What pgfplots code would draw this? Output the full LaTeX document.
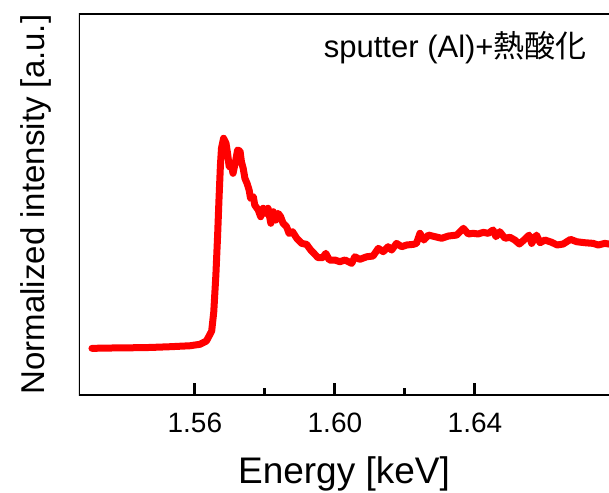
\documentclass[border=0pt]{standalone}
\usepackage{fontspec}
\setmainfont{Liberation Sans}
\newfontfamily\cjk{Noto Sans CJK JP}
\usepackage{pgfplots}
\pgfplotsset{compat=1.18}
\usepackage{pgfplotstable}

% Al K-edge spectrum
\pgfplotstableread{
x y
1.5306 -0.003
1.5357 0.000
1.5414 0.002
1.5471 0.005
1.5529 0.012
1.5586 0.021
1.5614 0.034
1.5633 0.065
1.5648 0.157
1.5654 0.336
1.5660 0.676
1.5665 1.046
1.5669 1.386
1.5673 1.694
1.5676 1.849
1.5682 1.942
1.5689 1.895
1.5694 1.787
1.5698 1.679
1.5704 1.694
1.5709 1.618
1.5716 1.725
1.5722 1.833
1.5729 1.824
1.5733 1.725
1.5738 1.664
1.5743 1.571
1.5749 1.525
1.5755 1.463
1.5759 1.386
1.5767 1.401
1.5771 1.324
1.5781 1.278
1.5788 1.216
1.5795 1.294
1.5803 1.247
1.5809 1.294
1.5817 1.155
1.5824 1.262
1.5831 1.185
1.5838 1.247
1.5845 1.216
1.5852 1.155
1.5862 1.123
1.5869 1.062
1.5879 1.077
1.5891 1.016
1.5905 0.969
1.5919 0.960
1.5931 0.907
1.5940 0.877
1.5952 0.836
1.5965 0.836
1.5974 0.877
1.5984 0.815
1.6000 0.815
1.6014 0.799
1.6029 0.815
1.6048 0.784
1.6057 0.845
1.6071 0.821
1.6091 0.845
1.6109 0.852
1.6124 0.923
1.6138 0.892
1.6152 0.938
1.6162 0.907
1.6176 0.969
1.6191 0.938
1.6205 0.954
1.6224 0.960
1.6233 0.969
1.6243 1.062
1.6254 1.000
1.6267 1.046
1.6286 1.031
1.6305 1.016
1.6324 1.037
1.6348 1.046
1.6367 1.108
1.6381 1.056
1.6395 1.062
1.6409 1.056
1.6424 1.071
1.6438 1.062
1.6452 1.093
1.6460 1.031
1.6471 1.077
1.6486 1.016
1.6500 1.025
1.6514 1.000
1.6527 0.963
1.6540 1.000
1.6555 1.046
1.6562 0.969
1.6576 1.046
1.6586 0.975
1.6600 1.000
1.6619 0.979
1.6635 0.954
1.6652 0.963
1.6673 1.006
1.6691 0.984
1.6714 0.975
1.6738 0.969
1.6752 0.954
1.6771 0.969
1.6783 0.963
1.6800 0.960
}\spectrum

\begin{document}
\begin{tikzpicture}
\begin{axis}[
name=ax,
scale only axis,
width=265pt,height=190.5pt,
xmin=1.5269,xmax=1.6783,ymin=-0.435,ymax=3.093,
axis line style={draw=none},
xtick={1.56,1.60,1.64},
minor x tick num=1,
xtick pos=bottom,
ytick=\empty,
tick align=inside,
major tick length=6pt,
minor tick length=3.5pt,
tick style={line width=1.5pt,black},
/pgf/number format/.cd,fixed,fixed zerofill,precision=2,assume math mode=true,
/pgfplots/.cd,
tick label style={font=\fontsize{14}{16}\selectfont},
xticklabel style={yshift=-5.5pt},
xlabel={Energy [keV]},
xlabel style={font=\fontsize{18.5}{22}\selectfont,at={(axis description cs:0.5,-0.232)},anchor=base},
ylabel={Normalized intensity [a.u.]},
ylabel style={font=\fontsize{16.5}{20}\selectfont,at={(axis description cs:-0.066,0.5)},anchor=base,rotate=0},
]
\addplot[red,line width=3.5pt,line join=round,line cap=round] table[x=x,y=y] {\spectrum};
\draw[line width=1.5pt,black] (rel axis cs:1,1) -- (rel axis cs:0,1) -- (rel axis cs:0,0) -- (rel axis cs:1,0);
\node[anchor=base east,inner sep=0pt,font=\fontsize{15.5}{18}\selectfont,xshift=-11pt,yshift=-22pt] at (axis description cs:1,1) {sputter (Al)+{\cjk 熱酸化}};
\end{axis}
\pgfresetboundingbox
\path[use as bounding box] ([xshift=-39.5pt,yshift=-48.5pt]ax.south west) rectangle ([yshift=7pt]ax.north east);
\end{tikzpicture}
\end{document}
